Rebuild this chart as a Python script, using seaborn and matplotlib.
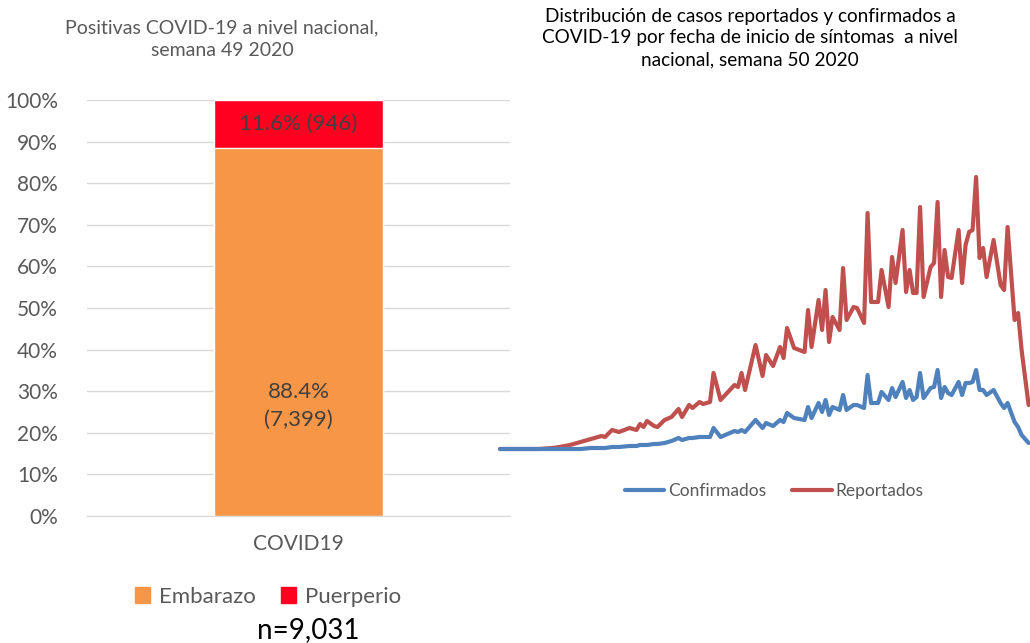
import matplotlib
matplotlib.use("Agg")
import matplotlib.pyplot as plt
import seaborn as sns
import pandas as pd
from matplotlib.patches import Patch
from matplotlib.lines import Line2D

# ---------------- data ----------------
categoria = ["COVID19"]
embarazo_pct = [88.4]
puerperio_pct = [11.6]
embarazo_n = [7399]
puerperio_n = [946]
total_n = 9031

dias = [0, 6, 11, 15, 17, 20, 23, 26, 29, 30, 32, 34, 37, 39, 40, 41, 42, 44, 45, 47,
        49, 51, 52, 54, 55, 57, 58, 60, 61, 63, 67, 68, 69, 70, 73, 75, 76, 78, 80, 81,
        82, 84, 87, 88, 89, 91, 92, 93, 94, 95, 97, 98, 99, 101, 102, 104, 105, 106, 108, 109,
        111, 112, 113, 115, 116, 117, 118, 119, 120, 121, 123, 124, 125, 126, 127, 128, 129, 131, 132, 133,
        134, 135, 136, 137, 138, 139, 141, 143, 144, 145, 147, 148, 149, 151]
reportados = [1, 1, 1, 2, 3, 5, 8, 11, 14, 13, 20, 18, 22, 20, 26, 23, 29, 24, 23, 30,
              33, 41, 33, 45, 42, 48, 46, 48, 77, 50, 65, 63, 77, 60, 105, 74, 95, 84, 103, 92,
              122, 102, 98, 140, 103, 150, 120, 160, 108, 133, 120, 182, 130, 143, 142, 127, 237, 148, 148, 180,
              143, 193, 167, 220, 158, 180, 157, 157, 243, 153, 183, 187, 248, 153, 200, 173, 172, 220, 167, 205,
              218, 220, 273, 192, 202, 173, 210, 165, 160, 223, 130, 137, 100, 45]
confirmados = [1, 1, 1, 1, 1, 1, 1, 2, 2, 2, 3, 3, 4, 4, 5, 5, 5, 6, 6, 7,
               9, 12, 10, 12, 12, 13, 13, 13, 22, 13, 19, 18, 20, 18, 30, 22, 27, 24, 30, 28,
               37, 32, 30, 43, 32, 47, 38, 50, 35, 43, 40, 55, 40, 45, 45, 42, 75, 47, 47, 58,
               50, 62, 53, 68, 52, 60, 50, 53, 77, 52, 62, 63, 80, 52, 63, 57, 55, 68, 55, 67,
               67, 68, 80, 60, 60, 55, 60, 47, 42, 47, 28, 23, 15, 7]

# ---------------- style ----------------
sns.set_style("white")
plt.rcParams["font.family"] = ["Lato", "DejaVu Sans"]

c_orange = "#F79646"
c_red = "#FF0021"
c_blue = "#4F81BD"
c_redline = "#C0504D"
grey_txt = "#595959"

W, H = 1030, 643
fig = plt.figure(figsize=(W / 100, H / 100), dpi=100)

def ax_rect(x0, y0, x1, y1):
    return [x0 / W, 1 - y1 / H, (x1 - x0) / W, (y1 - y0) / H]

# ---------------- left: 100% stacked bar ----------------
ax1 = fig.add_axes(ax_rect(87, 100, 510, 516))
df = pd.DataFrame({"cat": categoria,
                   "total": [e + p for e, p in zip(embarazo_pct, puerperio_pct)],
                   "emb": embarazo_pct})
sns.barplot(data=df, x="cat", y="total", color=c_red, width=0.4, ax=ax1,
            saturation=1, zorder=3)
sns.barplot(data=df, x="cat", y="emb", color=c_orange, width=0.4, ax=ax1,
            saturation=1, zorder=3)
ax1.set_xlim(-0.5, 0.5)
ax1.set_ylim(0, 100)
ax1.set_yticks(range(0, 101, 10))
ax1.set_yticklabels([f"{v}%" for v in range(0, 101, 10)])
ax1.yaxis.grid(True, color="#D9D9D9", linewidth=1)
ax1.set_axisbelow(True)
for s in ["left", "right", "top"]:
    ax1.spines[s].set_visible(False)
ax1.spines["bottom"].set_color("#D9D9D9")
ax1.tick_params(axis="y", length=0, labelsize=15, labelcolor=grey_txt, pad=21)
ax1.tick_params(axis="x", length=0, labelsize=15, labelcolor=grey_txt, pad=13)
ax1.set_xlabel("")
ax1.set_ylabel("")

ax1.text(0, embarazo_pct[0] + puerperio_pct[0] / 2,
         f"{puerperio_pct[0]}% ({puerperio_n[0]:,})",
         ha="center", va="center", fontsize=16, color="#404040")
ax1.text(0, 26.5, f"{embarazo_pct[0]}%\n({embarazo_n[0]:,})",
         ha="center", va="center", fontsize=16, color="#404040", linespacing=1.5)

fig.text(222 / W, 1 - 39 / H, "Positivas COVID-19 a nivel nacional,\nsemana 49 2020",
         ha="center", va="center", fontsize=14, color=grey_txt, linespacing=1.4)

leg1 = fig.legend(handles=[Patch(color=c_orange, label="Embarazo"),
                           Patch(color=c_red, label="Puerperio")],
                  loc="center", bbox_to_anchor=(268 / W, 1 - 597 / H), ncol=2,
                  frameon=False, fontsize=16, handlelength=0.7, handleheight=0.7,
                  handletextpad=0.4, columnspacing=1.1)
for t in leg1.get_texts():
    t.set_color(grey_txt)

fig.text(308 / W, 1 - 630 / H, f"n={total_n:,}", ha="center", va="center",
         fontsize=20, color="black")

# ---------------- right: lines ----------------
ax2 = fig.add_axes(ax_rect(500, 160, 1030, 450))
sns.lineplot(x=dias, y=reportados, color=c_redline, linewidth=3.0, ax=ax2,
             label="Reportados")
sns.lineplot(x=dias, y=confirmados, color=c_blue, linewidth=3.0, ax=ax2,
             label="Confirmados")
for ln in ax2.lines:
    ln.set_clip_on(False)
    ln.set_solid_joinstyle("round")
ax2.set_xlim(0, 151.4)
ax2.set_ylim(0, 290)
ax2.axis("off")
ax2.get_legend().remove()

leg2 = fig.legend(handles=[Line2D([], [], color=c_blue, lw=3.0, label="Confirmados"),
                           Line2D([], [], color=c_redline, lw=3.0, label="Reportados")],
                  loc="center", bbox_to_anchor=(774 / W, 1 - 491 / H), ncol=2,
                  frameon=False, fontsize=12.5, handlelength=2.3, handletextpad=0.2,
                  columnspacing=1.5)
for t in leg2.get_texts():
    t.set_color(grey_txt)

fig.text(750 / W, 1 - 38 / H,
         "Distribución de casos reportados y confirmados a\n"
         "COVID-19 por fecha de inicio de síntomas  a nivel\n"
         "nacional, semana 50 2020",
         ha="center", va="center", fontsize=13.7, color="black", linespacing=1.35)

fig.savefig("out.png", dpi=100)
